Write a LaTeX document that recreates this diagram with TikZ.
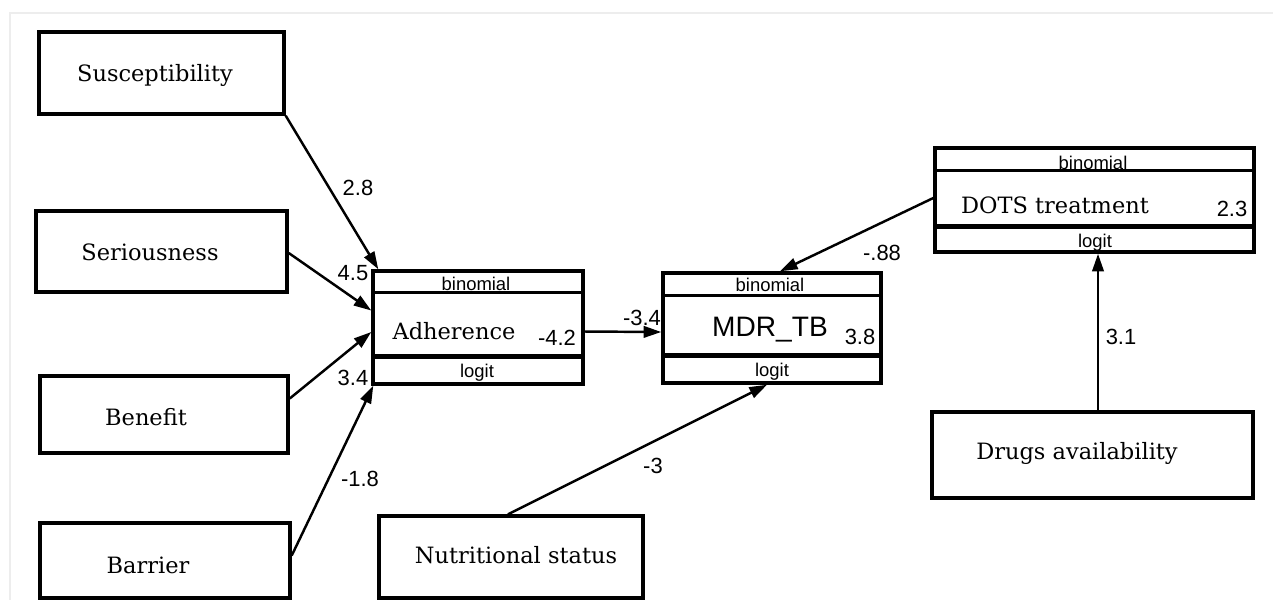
\documentclass[tikz,border=0pt]{standalone}
\usepackage{fontspec}
\setmainfont{DejaVu Serif}
\newfontfamily\arialf{Liberation Sans}
\usetikzlibrary{arrows.meta,calc}
\begin{document}
\begin{tikzpicture}[x=0.02cm,y=-0.02cm,
  plainbox/.style={draw,line width=2pt,inner sep=0pt},
  boxtext/.style={inner sep=0pt,font=\fontsize{12.8}{15}\selectfont},
  coef/.style={inner sep=0pt,font=\arialf\fontsize{12.5}{14}\selectfont},
  bigsans/.style={inner sep=0pt,font=\arialf\fontsize{16}{18}\selectfont},
  smalltext/.style={inner sep=0pt,font=\arialf\fontsize{10.5}{12}\selectfont},
  link/.style={line width=1.4pt,-{Triangle[length=10pt,width=6.5pt]}},
  divider/.style={line width=1.7pt},
  thickdiv/.style={line width=3pt}]
\useasboundingbox (0,0) rectangle (1273,600);
% faint outer frame
\draw[black!7,line width=1pt] (10,600) -- (10,13) -- (1273,13);

% plain boxes
\node[plainbox,minimum width=4.9cm,minimum height=1.64cm] (sus) at (161.5,73) {};
\node[boxtext] (susT) at (155,75) {Susceptibility};
\node[plainbox,minimum width=5.02cm,minimum height=1.62cm] (ser) at (161.5,251.5) {};
\node[boxtext] (serT) at (150,252) {Seriousness};
\node[plainbox,minimum width=4.96cm,minimum height=1.54cm] (ben) at (164,414.5) {};
\node[boxtext] (benT) at (146,417) {Benefit};
\node[plainbox,minimum width=5.0cm,minimum height=1.5cm] (bar) at (165,560.5) {};
\node[boxtext] (barT) at (148,565) {Barrier};
\node[plainbox,minimum width=5.28cm,minimum height=1.64cm] (nut) at (511,557) {};
\node[boxtext] (nutT) at (516,555) {Nutritional status};
\node[plainbox,minimum width=6.42cm,minimum height=1.72cm] (drg) at (1092.5,455) {};
\node[boxtext] (drgT) at (1077,453) {Drugs availability};

% compound boxes
\node[plainbox,minimum width=4.2cm,minimum height=2.26cm] (adh) at (478,327.5) {};
\draw[divider] ($(adh.north west)+(0,23)$) -- ($(adh.north east)+(0,23)$);
\draw[thickdiv] ($(adh.north west)+(0,87)$) -- ($(adh.north east)+(0,87)$);
\node[smalltext] (adhB) at (476,284) {binomial};
\node[boxtext] (adhT) at (454,331) {Adherence};
\node[coef] (adhC) at (557,338) {-4.2};
\node[smalltext] (adhL) at (477,373) {logit};

\node[plainbox,minimum width=4.36cm,minimum height=2.2cm] (mdr) at (772,328) {};
\draw[divider] ($(mdr.north west)+(0,24)$) -- ($(mdr.north east)+(0,24)$);
\draw[thickdiv] ($(mdr.north west)+(0,84)$) -- ($(mdr.north east)+(0,84)$);
\node[smalltext] (mdrB) at (770,285) {binomial};
\node[bigsans] (mdrT) at (770,330) {MDR\_TB};
\node[coef] (mdrC) at (860,337) {3.8};
\node[smalltext] (mdrL) at (772,372) {logit};

\node[plainbox,minimum width=6.38cm,minimum height=2.08cm] (dots) at (1094.5,200) {};
\draw[divider] ($(dots.north west)+(0,24)$) -- ($(dots.north east)+(0,24)$);
\draw[thickdiv] ($(dots.north west)+(0,80)$) -- ($(dots.north east)+(0,80)$);
\node[smalltext] (dotsB) at (1093,163) {binomial};
\node[boxtext] (dotsT) at (1055,205) {DOTS treatment};
\node[coef] (dotsC) at (1232,209) {2.3};
\node[smalltext] (dotsL) at (1095,243) {logit};

% connectors
\draw[link] (sus.south east) -- ($(adh.north west)+(7,0)$);
\draw[link] ($(ser.east)+(0,1.5)$) -- ($(adh.west)+(0,-17)$);
\draw[link] ($(ben.east)+(0,-16)$) -- ($(adh.west)+(0,4.5)$);
\draw[link] ($(bar.east)+(0,-5)$) -- ($(adh.south west)+(2,0)$);
\draw[link] ($(adh.east)+(0,4)$) -- ($(mdr.west)+(0,4)$);
\draw[link] ($(dots.west)+(0,-2)$) -- ($(mdr.north)+(8,0)$);
\draw[link] ($(nut.north)+(-3,0)$) -- ($(mdr.south)+(-5,0)$);
\draw[link] ($(drg.north)+(5.5,0)$) -- ($(dots.south)+(3.5,0)$);

% coefficients on connectors
\node[coef] (c1) at (358,188) {2.8};
\node[coef] (c2) at (353,273) {4.5};
\node[coef] (c3) at (353,378) {3.4};
\node[coef] (c4) at (360,479) {-1.8};
\node[coef] (c5) at (642,318) {-3.4};
\node[coef] (c6) at (882,253) {-.88};
\node[coef] (c7) at (653,466) {-3};
\node[coef] (c8) at (1121,337) {3.1};
\end{tikzpicture}
\end{document}
